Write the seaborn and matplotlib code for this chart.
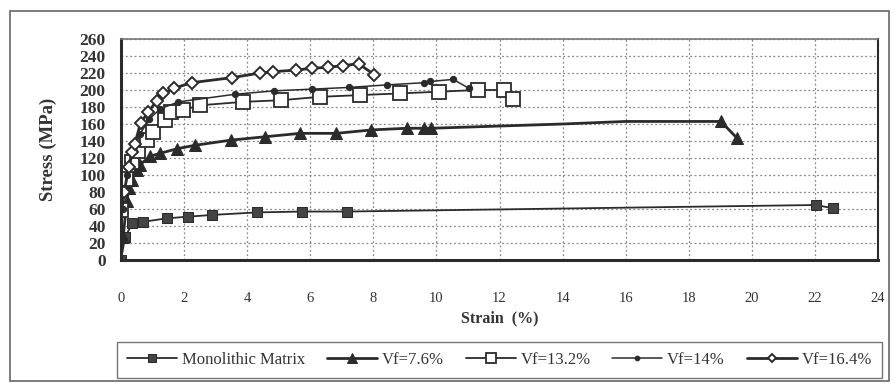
import matplotlib
matplotlib.use("Agg")
import matplotlib.pyplot as plt
import seaborn as sns
import numpy as np
from matplotlib.patches import Rectangle

# ---- data ----
mono_x = [0.0, 0.13, 0.36, 0.71, 1.45, 2.14, 2.88, 4.31, 5.74, 7.16, 22.03, 22.56]
mono_y = [0, 27, 43, 45, 49, 51, 53, 56, 57, 57, 64.7, 61]

vf76_x = [0.07, 0.18, 0.25, 0.34, 0.5, 0.6, 0.92, 1.24, 1.79, 2.35, 3.48, 4.57, 5.68, 6.83,
          7.93, 9.07, 9.6, 9.84, 14.0, 16.0, 19.02, 19.54]
vf76_y = [27, 69, 85, 94, 106, 112, 122, 125.5, 131, 135, 141, 145, 149, 149,
          153, 155, 155, 155, 160, 163, 163, 143]
vf76_marked = [True] * 18 + [False, False, True, True]

vf132_x = [0.0, 0.15, 0.35, 0.55, 0.81, 1.03, 1.4, 1.58, 1.96, 2.51, 3.86, 5.08, 6.32, 7.57,
           8.86, 10.07, 11.31, 12.14, 12.43]
vf132_y = [59, 95, 115, 128, 141, 151, 165, 174.5, 176.5, 182, 186, 188, 192, 194,
           196, 198, 200, 200, 189]

vf14_x = [0.05, 0.2, 0.4, 0.6, 0.9, 1.25, 1.82, 3.62, 4.86, 6.05, 7.22, 8.43, 9.6, 9.8,
          10.53, 11.03]
vf14_y = [60, 100, 128, 148, 166, 178, 186, 195, 199, 201, 203, 206, 208.6, 210,
          212.5, 202]

vf164_x = [0.1, 0.25, 0.34, 0.44, 0.62, 0.87, 1.13, 1.34, 1.68, 2.24, 3.51, 4.41, 4.81, 5.56,
           6.05, 6.55, 7.04, 7.53, 8.03]
vf164_y = [80, 110, 127, 137, 161, 174.5, 187, 196, 202, 208.6, 214.5, 220, 221.5, 223.5,
           225.5, 226.7, 228.6, 231, 218]

labels = ["Monolithic Matrix", "Vf=7.6%", "Vf=13.2%", "Vf=14%", "Vf=16.4%"]
x_ticks = list(range(0, 25, 2))
y_ticks = list(range(0, 261, 20))

# ---- style ----
sns.set_theme(style="white")
plt.rcParams["font.family"] = ["Liberation Serif", "DejaVu Serif"]

W, H = 894, 383
fig = plt.figure(figsize=(W / 100, H / 100), dpi=100)
fig.patch.set_facecolor("white")
ax = fig.add_axes([121 / W, 1 - 260 / H, (878 - 121) / W, (260 - 39) / H])

dark = "#2b2b2b"

sns.lineplot(x=mono_x, y=mono_y, ax=ax, sort=False, estimator=None, color=dark,
             lw=1.3, marker="s", markersize=7, markerfacecolor="#444444",
             markeredgecolor=dark, label=labels[0])
sns.lineplot(x=vf76_x, y=vf76_y, ax=ax, sort=False, estimator=None, color=dark,
             lw=2.0, marker="^", markersize=9, markerfacecolor=dark,
             markeredgecolor=dark, markevery=vf76_marked, label=labels[1])
sns.lineplot(x=vf132_x, y=vf132_y, ax=ax, sort=False, estimator=None, color=dark,
             lw=1.3, marker="s", markersize=10, markerfacecolor="white",
             markeredgecolor=dark, markeredgewidth=1.3, label=labels[2])
sns.lineplot(x=vf14_x, y=vf14_y, ax=ax, sort=False, estimator=None, color=dark,
             lw=1.1, marker="o", markersize=4.5, markerfacecolor=dark,
             markeredgecolor=dark, label=labels[3])
sns.lineplot(x=vf164_x, y=vf164_y, ax=ax, sort=False, estimator=None, color=dark,
             lw=2.0, marker="D", markersize=6, markerfacecolor="white",
             markeredgecolor=dark, markeredgewidth=1.4, label=labels[4])

ax.set_xlim(0, 24)
ax.set_ylim(0, 260)
ax.set_xticks(x_ticks)
ax.set_yticks(y_ticks)
ax.set_xticklabels([str(t) for t in x_ticks], fontsize=10.5, color="#333333")
ax.set_yticklabels([str(t) for t in y_ticks], fontsize=12.5, fontweight="bold",
                   color="#333333")
ax.tick_params(axis="x", direction="out", length=4, width=1.5, color=dark, pad=19)
ax.tick_params(axis="y", direction="out", length=4, width=1.5, color=dark, pad=7)

ax.grid(True, linestyle=(0, (1.5, 2)), color="#888888", lw=0.9)
for side in ["left", "bottom"]:
    ax.spines[side].set_linewidth(2.2)
    ax.spines[side].set_color(dark)
ax.spines["right"].set_linewidth(1.5)
ax.spines["right"].set_color(dark)
ax.spines["top"].set_linewidth(1.2)
ax.spines["top"].set_color("#777777")
ax.spines["top"].set_linestyle((0, (1.5, 1)))

ax.set_xlabel("Strain  (%)", fontsize=11.5, fontweight="bold", color="#333333", labelpad=4)
ax.set_ylabel("Stress (MPa)", fontsize=13.5, fontweight="bold", color="#333333", labelpad=16)

handles, labs = ax.get_legend_handles_labels()
ax.legend_.remove()
leg = fig.legend(handles, labs, loc="center", ncol=5, mode="expand",
                 bbox_to_anchor=(117 / W, 1 - 377 / H, (882 - 117) / W, 34 / H),
                 fontsize=12, frameon=True, fancybox=False, edgecolor="#555555",
                 handlelength=3.0, handletextpad=0.3, borderaxespad=0, columnspacing=1.0,
                 markerscale=0.75, borderpad=0.6)
leg.get_frame().set_linewidth(1.0)
for t in leg.get_texts():
    t.set_color("#333333")

fig.patches.append(Rectangle((10 / W, 1 - 381 / H), (889 - 10) / W, (381 - 11) / H,
                             transform=fig.transFigure, fill=False,
                             edgecolor="#666666", lw=1.2))

fig.savefig("out.png", dpi=100)
